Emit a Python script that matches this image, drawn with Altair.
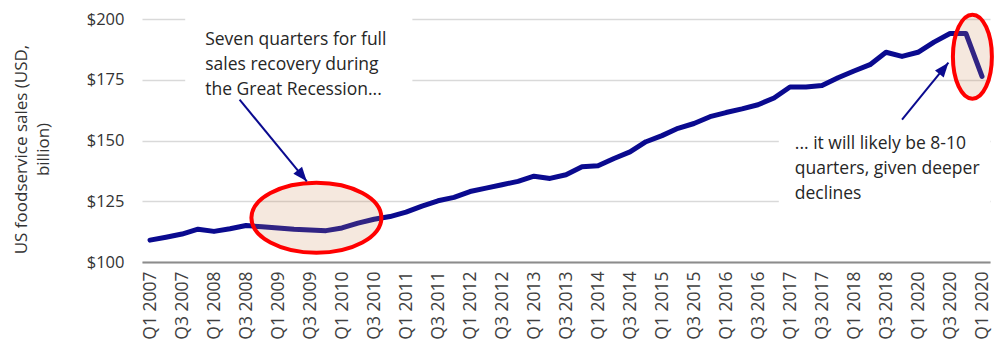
import json
import altair as alt
import pandas as pd

# ---------------- data ----------------
tick_labels = ["Q1 2007", "Q3 2007", "Q1 2008", "Q3 2008", "Q1 2009", "Q3 2009",
               "Q1 2010", "Q3 2010", "Q1 2011", "Q3 2011", "Q1 2012", "Q3 2012",
               "Q1 2013", "Q3 2013", "Q1 2014", "Q3 2014", "Q1 2015", "Q3 2015",
               "Q1 2016", "Q3 2016", "Q1 2017", "Q3 2017", "Q1 2018", "Q3 2018",
               "Q1 2020", "Q3 2020", "Q1 2020"]

sales = [109.0, 110.2, 111.5, 113.5, 112.6, 113.7, 115.0, 114.5, 114.0, 113.5,
         113.2, 112.9, 114.0, 116.0, 117.6, 118.7, 120.5, 123.0, 125.2, 126.6,
         129.0, 130.4, 131.8, 133.2, 135.3, 134.4, 135.9, 139.2, 139.6, 142.6,
         145.3, 149.5, 152.0, 155.0, 157.0, 159.8, 161.5, 163.0, 164.7, 167.5,
         172.0, 172.0, 172.6, 175.8, 178.6, 181.2, 186.3, 184.6, 186.3, 190.5,
         194.0, 194.0, 176.4]

y_ticks = [100, 125, 150, 175, 200]

# annotation: ellipses (position in data units)
ell_x = [10.4, 51.4]
ell_y = [118.2, 184.5]

# annotation: arrows (tail -> tip, data units)
arr_x = [5.6, 47.0]
arr_y = [166.8, 158.6]
arr_x2 = [9.8, 49.9]
arr_y2 = [133.2, 182.0]
arr_angle = [140.8, 38.9]

# annotation: text boxes
txt = ["Seven quarters for full\nsales recovery during\nthe Great Recession...",
       "... it will likely be 8-10\nquarters, given deeper\ndeclines"]
txt_x = [3.45, 40.3]
txt_y = [195.2, 152.4]
box_x = [2.2, 39.3]
box_x2 = [16.4, 52.5]
box_y = [168, 121]
box_y2 = [202, 154]


def ellipse_path(rx, ry):
    k = 0.5523
    return (f"M {-rx} 0 C {-rx} {-k*ry} {-k*rx} {-ry} 0 {-ry} "
            f"C {k*rx} {-ry} {rx} {-k*ry} {rx} 0 "
            f"C {rx} {k*ry} {k*rx} {ry} 0 {ry} "
            f"C {-k*rx} {ry} {-rx} {k*ry} {-rx} 0 Z")


ell_shape = [ellipse_path(1, 0.538), ellipse_path(0.464, 1)]
ell_size = [130 ** 2, 84 ** 2]
arrow_head = "M 0 0 L 0.7 1.8 L -0.7 1.8 Z"

# ---------------- chart ----------------
NAVY = "#0a0a8f"
FONT = "Open Sans"

df = pd.DataFrame({"i": list(range(len(sales))), "sales": sales})
x_scale = alt.Scale(domain=[-0.5, 52.5], nice=False, zero=False)
y_scale = alt.Scale(domain=[100, 200], nice=False, zero=False)

label_expr = json.dumps(tick_labels) + "[datum.value / 2]"

line = alt.Chart(df).mark_line(color=NAVY, strokeWidth=5, strokeJoin="round", strokeCap="round").encode(
    x=alt.X("i:Q", scale=x_scale,
            axis=alt.Axis(values=list(range(0, 53, 2)), tickCount=60, labelExpr=label_expr, labelAngle=-90,
                          grid=False, ticks=False, domain=True, domainColor="#8c8c8c", domainWidth=2,
                          labelFont=FONT, labelFontSize=17.5, labelColor="#404040", labelPadding=9,
                          title=None, labelOverlap=False)),
    y=alt.Y("sales:Q", scale=y_scale,
            axis=alt.Axis(values=y_ticks, labelExpr="'$' + datum.value", grid=True,
                          gridColor="#d9d9d9", gridWidth=1.5, domain=False, ticks=False,
                          labelFont=FONT, labelFontSize=16.5, labelColor="#333333", labelPadding=18,
                          title=["US foodservice sales (USD,", "billion)"], titleFont=FONT,
                          titleFontSize=17, titleFontWeight="normal", titleColor="#333333",
                          titleAngle=-90, titleX=-129, titleY=130, titleBaseline="top",
                          titleAlign="center", titleLineHeight=22)),
)

boxes = alt.Chart(pd.DataFrame({"x": box_x, "x2": box_x2, "y": box_y, "y2": box_y2})).mark_rect(
    color="white").encode(
    x=alt.X("x:Q", scale=x_scale), x2="x2:Q",
    y=alt.Y("y:Q", scale=y_scale), y2="y2:Q")

ellipses = alt.Chart(pd.DataFrame({"x": ell_x, "y": ell_y, "shape": ell_shape, "size": ell_size})).mark_point(
    filled=False, fill="#cd8c5a", fillOpacity=0.2, stroke="#ff0000", strokeWidth=4, opacity=1).encode(
    x=alt.X("x:Q", scale=x_scale), y=alt.Y("y:Q", scale=y_scale),
    shape=alt.Shape("shape:N", scale=None), size=alt.Size("size:Q", scale=None))

arr_df = pd.DataFrame({"x": arr_x, "y": arr_y, "x2": arr_x2, "y2": arr_y2, "angle": arr_angle})
arrow_lines = alt.Chart(arr_df).mark_rule(color=NAVY, strokeWidth=2).encode(
    x=alt.X("x:Q", scale=x_scale), x2="x2:Q",
    y=alt.Y("y:Q", scale=y_scale), y2="y2:Q")
arrow_heads = alt.Chart(arr_df).mark_point(filled=True, color=NAVY, opacity=1, shape=arrow_head, size=256).encode(
    x=alt.X("x2:Q", scale=x_scale), y=alt.Y("y2:Q", scale=y_scale),
    angle=alt.Angle("angle:Q", scale=None))

texts = alt.Chart(pd.DataFrame({"x": txt_x, "y": txt_y, "t": txt})).mark_text(
    align="left", baseline="top", font=FONT, fontSize=17.5, color="#262626", lineBreak="\n",
    lineHeight=25).encode(
    x=alt.X("x:Q", scale=x_scale), y=alt.Y("y:Q", scale=y_scale), text="t:N")

chart = alt.layer(line, boxes, ellipses, arrow_lines, arrow_heads, texts).properties(
    width=848, height=243,
    autosize=alt.AutoSizeParams(type="none"),
    padding={"left": 142, "top": 19, "right": 7, "bottom": 85},
).configure_view(stroke=None)

chart.save("out.html", embed_options={"renderer": "svg", "actions": False})
